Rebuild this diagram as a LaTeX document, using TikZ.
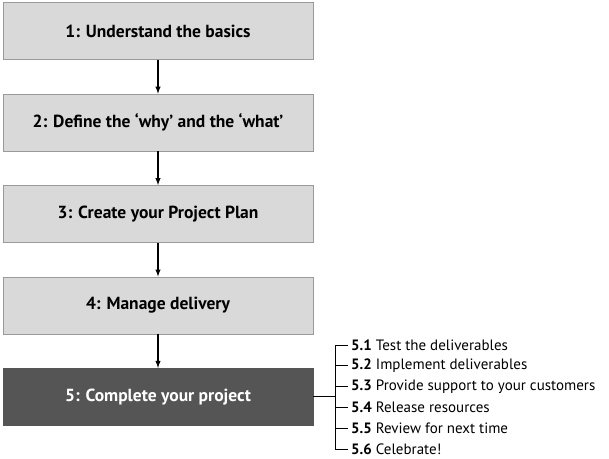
\documentclass[tikz,border=0pt]{standalone}
\usepackage{fontspec}
\setmainfont{PT Sans}
\usetikzlibrary{positioning}
\definecolor{stagegray}{HTML}{D9D9D9}
\definecolor{stageedge}{HTML}{9A9A9A}
\definecolor{lastgray}{HTML}{555555}
\begin{document}
\begin{tikzpicture}[x=1pt,y=1pt]
    \tikzstyle{stage} = [draw=stageedge, fill=stagegray, minimum width=310pt, minimum height=57pt,
        font=\fontsize{17.5}{20}\selectfont\bfseries, inner sep=0pt]
    \tikzstyle{last} = [stage, fill=lastgray, draw=lastgray, text=white]
    \tikzstyle{item} = [anchor=west, inner sep=0pt, font=\fontsize{15}{17}\selectfont]
    \tikzstyle{flow} = [->, >=latex, line width=1.4pt]
    \tikzstyle{fork} = [line width=1pt]
    \useasboundingbox (0,0) rectangle (609,-458);

    \node[stage] (understand) at (158,-31) {1: Understand the basics};
    \node[stage, below=34pt of understand] (define) {2: Define the ‘why’ and the ‘what’};
    \node[stage, below=34pt of define] (create) {3: Create your Project Plan};
    \node[stage, below=34pt of create] (manage) {4: Manage delivery};
    \node[last, below=34pt of manage] (complete) {5: Complete your project};

    \draw[flow] (understand) -- (define);
    \draw[flow] (define) -- (create);
    \draw[flow] (create) -- (manage);
    \draw[flow] (manage) -- (complete);

    % sub-steps of the last stage
    \foreach \n/\txt in {1/Test the deliverables, 2/Implement deliverables,
        3/Provide support to your customers, 4/Release resources,
        5/Review for next time, 6/Celebrate!} {
        \node[item] (sub\n) at (351,-345-20.8*\n+20.8) {\textbf{5.\n}\ \txt};
        \draw[fork] ([xshift=-3pt]sub\n.west) -- ([xshift=-16pt]sub\n.west);
    }
    \coordinate (fork) at ([xshift=-16pt]sub1.west |- complete.east);
    \draw[fork] (complete.east) -- (fork);
    \draw[fork] ([xshift=-16pt]sub1.west) -- ([xshift=-16pt]sub6.west);
\end{tikzpicture}
\end{document}
